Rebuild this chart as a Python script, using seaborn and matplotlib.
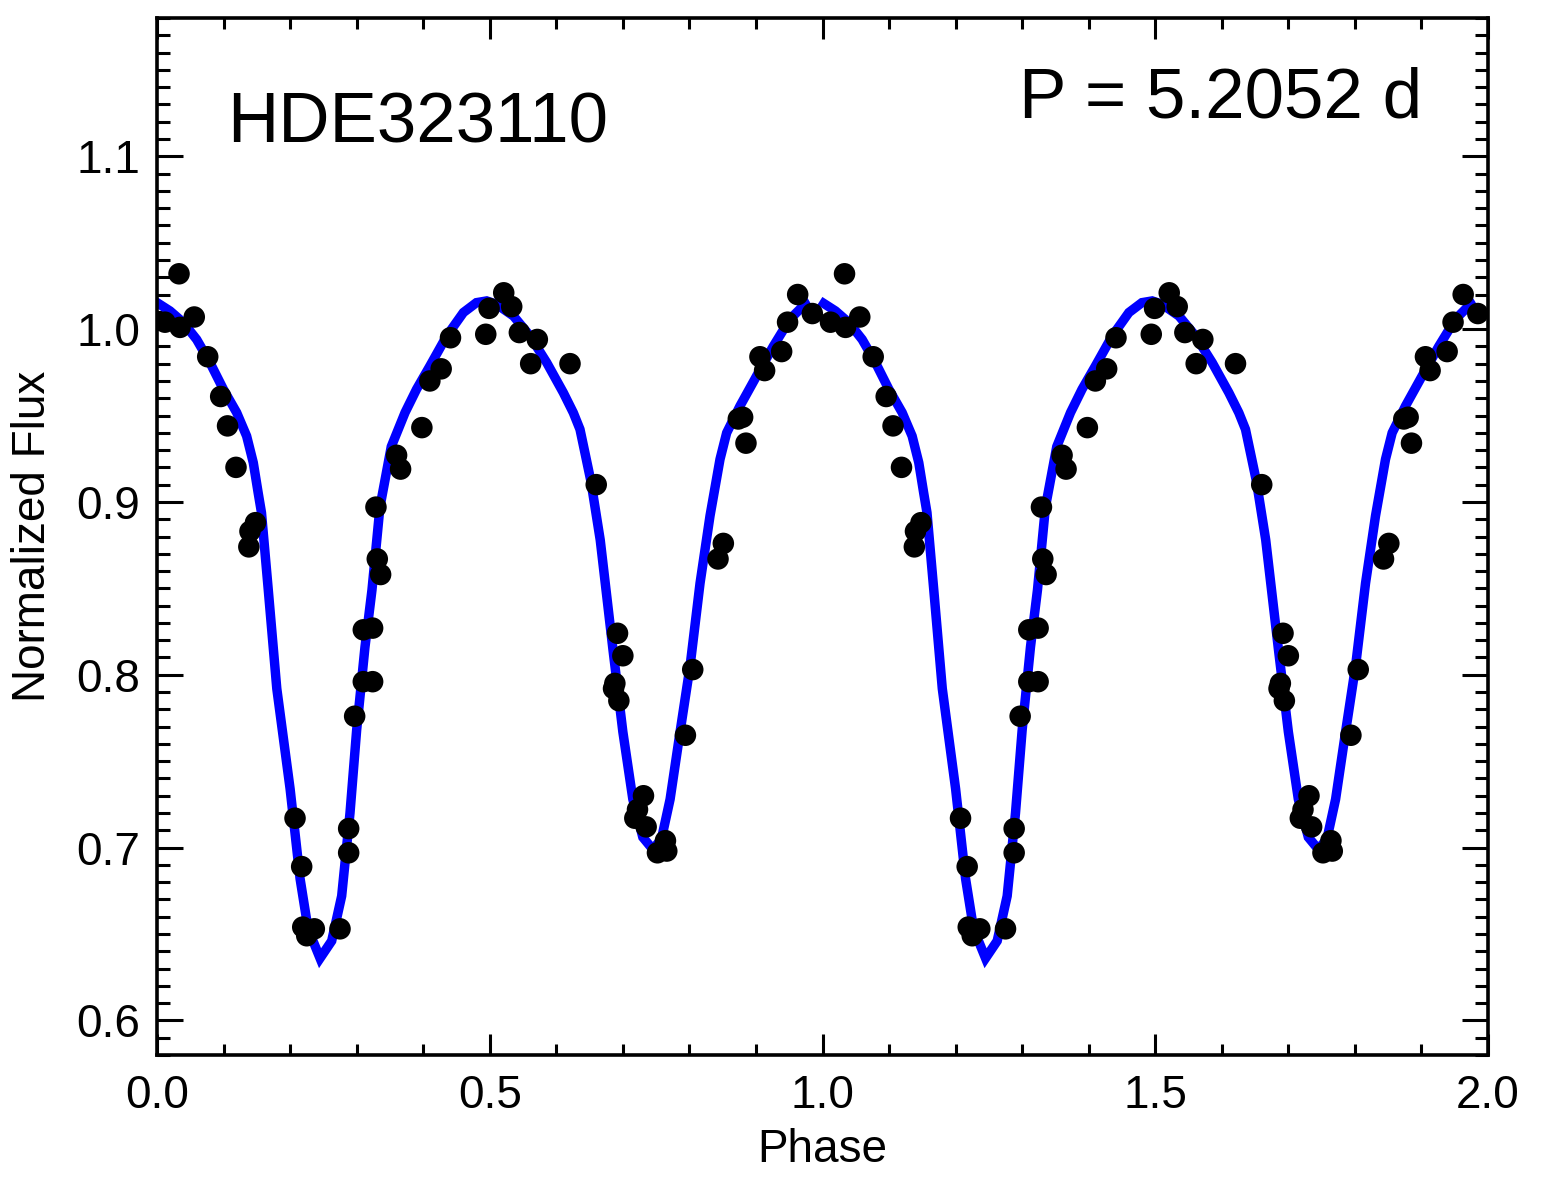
import numpy as np
import pandas as pd
import matplotlib
matplotlib.use("Agg")
import matplotlib.pyplot as plt
import seaborn as sns
from matplotlib.ticker import MultipleLocator, FormatStrFormatter

# ---- data (one cycle; plotted twice, phase and phase+1) ----
obs_phase = [0.012, 0.0331, 0.0346, 0.056, 0.0762, 0.0957, 0.106, 0.1187, 0.138, 0.1397,
             0.148, 0.2074, 0.2174, 0.219, 0.225, 0.2364, 0.275, 0.288, 0.288, 0.297,
             0.310, 0.310, 0.324, 0.324, 0.329, 0.331, 0.336, 0.360, 0.366, 0.398,
             0.410, 0.427, 0.441, 0.494, 0.499, 0.521, 0.533, 0.5445, 0.5615, 0.5715,
             0.6206, 0.660, 0.686, 0.688, 0.692, 0.694, 0.700, 0.718, 0.722, 0.731,
             0.735, 0.752, 0.764, 0.766, 0.794, 0.805, 0.843, 0.851, 0.8735, 0.880,
             0.885, 0.906, 0.913, 0.9386, 0.9475, 0.9627, 0.9847]
obs_flux = [1.004, 1.032, 1.001, 1.007, 0.984, 0.961, 0.944, 0.920, 0.874, 0.883,
            0.888, 0.717, 0.689, 0.654, 0.649, 0.653, 0.653, 0.711, 0.697, 0.776,
            0.826, 0.796, 0.827, 0.796, 0.897, 0.867, 0.858, 0.927, 0.919, 0.943,
            0.970, 0.977, 0.995, 0.997, 1.012, 1.021, 1.013, 0.998, 0.980, 0.994,
            0.980, 0.910, 0.792, 0.795, 0.824, 0.785, 0.811, 0.717, 0.722, 0.730,
            0.712, 0.697, 0.704, 0.698, 0.765, 0.803, 0.867, 0.876, 0.948, 0.949,
            0.934, 0.984, 0.976, 0.987, 1.004, 1.020, 1.009]

model_phase = [-0.004, 0.0195, 0.0395, 0.0596, 0.0796, 0.0997, 0.1197, 0.1347, 0.1447, 0.152,
               0.157, 0.167, 0.180, 0.200, 0.215, 0.227, 0.245, 0.2625, 0.2775, 0.290,
               0.300, 0.3125, 0.323, 0.335, 0.352, 0.3727, 0.390, 0.410, 0.4353, 0.4604,
               0.480, 0.4954, 0.510, 0.5356, 0.5605, 0.5856, 0.6106, 0.6256, 0.6356, 0.643,
               0.652, 0.666, 0.685, 0.700, 0.715, 0.730, 0.745, 0.758, 0.771, 0.786,
               0.801, 0.816, 0.831, 0.846, 0.856, 0.876, 0.901, 0.926, 0.951, 0.971,
               0.981]
model_flux = [1.0163, 1.0105, 1.0038, 0.994, 0.9806, 0.9652, 0.9517, 0.9381, 0.9227, 0.9053,
              0.8938, 0.850, 0.792, 0.734, 0.682, 0.653, 0.636, 0.646, 0.672, 0.720,
              0.768, 0.816, 0.849, 0.897, 0.932, 0.9517, 0.9652, 0.9786, 0.996, 1.0096,
              1.0153, 1.0163, 1.0144, 1.0076, 0.996, 0.9806, 0.9632, 0.9516, 0.942, 0.9285,
              0.912, 0.878, 0.815, 0.767, 0.728, 0.706, 0.699, 0.705, 0.728, 0.767,
              0.805, 0.853, 0.892, 0.9247, 0.940, 0.9555, 0.9729, 0.990, 1.0057, 1.0134,
              1.0157]

star_name = "HDE323110"
period_text = "P = 5.2052 d"
x_ticks = [0.0, 0.5, 1.0, 1.5, 2.0]
y_ticks = [0.6, 0.7, 0.8, 0.9, 1.0, 1.1]

# ---- build frames ----
obs = pd.DataFrame({"phase": np.concatenate([obs_phase, np.array(obs_phase) + 1.0]),
                    "flux": np.concatenate([obs_flux, obs_flux])})
n = len(model_phase)
model = pd.DataFrame({"phase": np.concatenate([model_phase, np.array(model_phase) + 1.0]),
                      "flux": np.concatenate([model_flux, model_flux]),
                      "cycle": [0] * n + [1] * n})

sns.set_theme(style="ticks")
plt.rcParams["font.family"] = ["Liberation Sans", "DejaVu Sans"]

W, H = 1545, 1186
fig = plt.figure(figsize=(W / 100, H / 100), dpi=100)
L, R, T, B = 157, 1488, 18, 1055
ax = fig.add_axes([L / W, 1 - B / H, (R - L) / W, (B - T) / H])

sns.lineplot(data=model, x="phase", y="flux", units="cycle", ax=ax, color="#0000ff",
             lw=6.8, sort=False, estimator=None, solid_joinstyle="miter",
             solid_capstyle="butt", zorder=2)
sns.scatterplot(data=obs, x="phase", y="flux", ax=ax, color="black", s=240,
                edgecolor="none", linewidth=0, zorder=3)

ax.set_xlim(0, 2)
ax.set_ylim(0.58, 1.18)
ax.set_xticks(x_ticks)
ax.set_yticks(y_ticks)
ax.xaxis.set_minor_locator(MultipleLocator(0.1))
ax.yaxis.set_minor_locator(MultipleLocator(0.01))
ax.xaxis.set_major_formatter(FormatStrFormatter("%.1f"))
ax.yaxis.set_major_formatter(FormatStrFormatter("%.1f"))

ax.tick_params(axis="both", which="both", direction="in", top=True, right=True,
               width=2.2, color="black", labelsize=33, labelcolor="black")
ax.tick_params(axis="x", which="major", length=15, pad=14)
ax.tick_params(axis="x", which="minor", length=8)
ax.tick_params(axis="y", which="major", length=18.7, pad=12)
ax.tick_params(axis="y", which="minor", length=9.4)
for s in ax.spines.values():
    s.set_linewidth(2.6)
    s.set_color("black")

ax.set_xlabel("Phase", fontsize=33, color="black")
ax.set_ylabel("Normalized Flux", fontsize=33, color="black")
ax.xaxis.set_label_coords(0.5, -0.070)
ax.yaxis.set_label_coords(-0.077, 0.5)

ax.text(0.105, 1.108, star_name, fontsize=51, ha="left", va="baseline", color="black")
ax.text(1.901, 1.1226, period_text, fontsize=51, ha="right", va="baseline", color="black")

fig.savefig("out.png", dpi=100, facecolor="white")
